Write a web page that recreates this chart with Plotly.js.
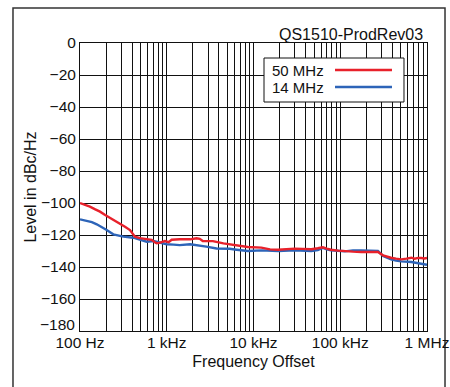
<!DOCTYPE html>
<html>
<head>
<meta charset="utf-8">
<script src="https://cdn.plot.ly/plotly-3.0.1.min.js"></script>
<style>html,body{margin:0;padding:0;background:#fff;}#chart{width:450px;height:387px;}</style>
</head>
<body>
<div id="chart"></div>
<script>
// ---- data ----
const freq50 = [100,115,130,150,170,195,221,255,289,330,377,405,430,491,587,670,730,765,836,900,953,1050,1140,1410,1860,2200,2400,2600,3400,4500,5300,7000,8600,12300,15500,19200,24000,29800,37000,46400,55000,63000,70000,78000,95000,113000,140000,174000,220000,272000,311000,345000,385000,440000,505000,580000,660000,720000,790000,860000,930000,1000000];
const level50 = [-100,-101,-102.3,-104,-105.4,-107.5,-109.2,-111,-112.7,-114.8,-116.9,-119,-121,-122,-122.7,-123,-124.5,-125.2,-124.8,-124,-123.8,-124.5,-123,-122.7,-122.7,-122,-122.4,-123.8,-123.8,-125.2,-125.8,-126.8,-127.5,-127.9,-129,-129.2,-128.8,-128.5,-128.7,-128.9,-128.3,-127.7,-128.5,-129.2,-129.8,-130.2,-130.4,-130.6,-130.6,-130.6,-132.7,-133.5,-134.2,-134.8,-135.2,-134.8,-134.2,-134.8,-134.3,-134.4,-134.7,-134.4];
const freq14 = [100,119,137,156,180,203,242,275,316,412,491,587,700,836,1000,1200,1410,1860,2200,2860,3750,5300,6400,8600,12300,15500,19200,29800,46400,55000,63000,70000,78000,113000,140000,174000,220000,272000,311000,345000,385000,440000,505000,660000,760000,860000,1000000];
const level14 = [-110.2,-111.2,-112,-113.3,-115,-116.9,-119.6,-120.5,-121,-121.7,-122.7,-124.2,-123.8,-124.8,-125.8,-126,-126.3,-125.8,-126.3,-127.3,-128.4,-128.6,-129.2,-130,-129.6,-130,-130,-129.6,-130,-129.4,-128.1,-129,-129.6,-130.2,-129.6,-129.6,-129.8,-130,-133.1,-134.2,-135.2,-136,-136.5,-136.9,-137.5,-137.9,-138.6];
const seriesNames = ['50 MHz','14 MHz'];
const xTickVals = [100,200,300,400,500,600,700,800,900,1000,2000,3000,4000,5000,6000,7000,8000,9000,10000,20000,30000,40000,50000,60000,70000,80000,90000,100000,200000,300000,400000,500000,600000,700000,800000,900000,1000000];
const xTickText = ['100 Hz','','','','','','','','','1 kHz','','','','','','','','','10 kHz','','','','','','','','','100 kHz','','','','','','','','','1 MHz'];
const yTickVals = [0,-20,-40,-60,-80,-100,-120,-140,-160,-180];
const yTickText = ['0','\u221220','\u221240','\u221260','\u221280','\u2212100','\u2212120','\u2212140','\u2212160','\u2212180'];
const chartTitle = 'QS1510-ProdRev03';
const xTitle = 'Frequency Offset';
const yTitle = 'Level in dBc/Hz';

const RED = '#e8212b', BLUE = '#2d64b8';
const FONT = 'Liberation Sans, Arial, Helvetica, sans-serif';

const traces = [
  {x: freq14, y: level14, type: 'scatter', mode: 'lines', name: seriesNames[1], line: {color: BLUE, width: 2.4}, showlegend: false},
  {x: freq50, y: level50, type: 'scatter', mode: 'lines', name: seriesNames[0], line: {color: RED, width: 2.4}, showlegend: false}
];

// the bottom y label sits slightly raised in the reference: drawn as an annotation
const lastY = yTickVals.length - 1;
const yTickShown = yTickText.map((t, i) => i === lastY ? '' : t);

const layout = {
  width: 450, height: 387,
  margin: {l: 80, r: 23, t: 43, b: 56},
  paper_bgcolor: '#fff', plot_bgcolor: '#fff',
  font: {family: FONT, size: 15.5, color: '#111'},
  showlegend: false,
  xaxis: {
    type: 'log', range: [2, 6],
    tickmode: 'array', tickvals: xTickVals, ticktext: xTickText,
    showgrid: true, gridcolor: '#111', gridwidth: 1,
    showline: true, linecolor: '#111', linewidth: 1, mirror: true,
    ticks: '', zeroline: false, ticklabelstandoff: -3,
    tickfont: {family: FONT, size: 15.5, color: '#111'},
    title: {text: xTitle, font: {family: FONT, size: 16, color: '#111'}, standoff: 6}
  },
  yaxis: {
    range: [-180, 0],
    tickmode: 'array', tickvals: yTickVals, ticktext: yTickShown,
    showgrid: true, gridcolor: '#111', gridwidth: 1,
    showline: true, linecolor: '#111', linewidth: 1, mirror: true,
    ticks: '', zeroline: false,
    tickfont: {family: FONT, size: 15.5, color: '#111'},
    title: {text: yTitle, font: {family: FONT, size: 16, color: '#111'}, standoff: 0}
  },
  shapes: [
    // outer frame
    {type: 'rect', xref: 'paper', yref: 'paper', x0: -0.1931, x1: 1.0519, y0: -0.25, y1: 1.1215,
     line: {color: '#333', width: 1.5}, fillcolor: 'rgba(0,0,0,0)', layer: 'below'},
    // legend box
    {type: 'rect', xref: 'paper', yref: 'paper', x0: 0.5303, x1: 0.9337, y0: 0.7951, y1: 0.9479,
     line: {color: '#111', width: 1}, fillcolor: '#fff', layer: 'above'},
    {type: 'line', xref: 'paper', yref: 'paper', x0: 0.7349, x1: 0.8991, y0: 0.9063, y1: 0.9063,
     line: {color: RED, width: 2.5}},
    {type: 'line', xref: 'paper', yref: 'paper', x0: 0.7349, x1: 0.8991, y0: 0.8472, y1: 0.8472,
     line: {color: BLUE, width: 2.5}}
  ],
  annotations: [
    {text: chartTitle, xref: 'paper', yref: 'paper', x: 0.9942, y: 1.03125, xanchor: 'right', yanchor: 'middle',
     showarrow: false, font: {family: FONT, size: 16, color: '#111'}},
    {text: seriesNames[0], xref: 'paper', yref: 'paper', x: 0.5476, y: 0.9028, xanchor: 'left', yanchor: 'middle',
     showarrow: false, font: {family: FONT, size: 15, color: '#111'}},
    {text: seriesNames[1], xref: 'paper', yref: 'paper', x: 0.5476, y: 0.8438, xanchor: 'left', yanchor: 'middle',
     showarrow: false, font: {family: FONT, size: 15, color: '#111'}},
    {text: yTickText[lastY], xref: 'paper', yref: 'y', x: 0, y: yTickVals[lastY], xanchor: 'right', yanchor: 'middle',
     xshift: -3, yshift: 7, showarrow: false, font: {family: FONT, size: 15.5, color: '#111'}}
  ]
};

Plotly.newPlot('chart', traces, layout, {displayModeBar: false, staticPlot: true});
</script>
</body>
</html>
